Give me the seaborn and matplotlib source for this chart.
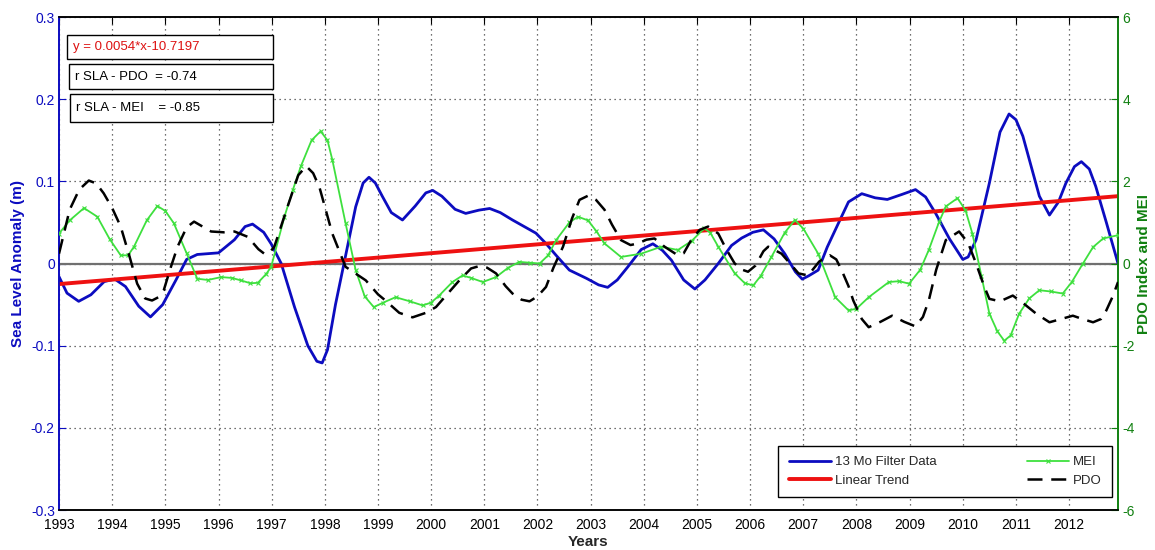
import matplotlib
matplotlib.use("Agg")
import matplotlib.pyplot as plt
import seaborn as sns
import pandas as pd

# ---- data ----
sla_years = [1993.0, 1993.15, 1993.37, 1993.6, 1993.85, 1994.05, 1994.25, 1994.5, 1994.72, 1994.95,
             1995.2, 1995.4, 1995.6, 1996.0, 1996.3, 1996.5, 1996.64, 1996.85, 1996.99, 1997.18,
             1997.43, 1997.68, 1997.85, 1997.95, 1998.05, 1998.2, 1998.36, 1998.58, 1998.72, 1998.83,
             1998.95, 1999.08, 1999.25, 1999.46, 1999.7, 1999.9, 2000.03, 2000.2, 2000.45, 2000.65,
             2000.9, 2001.1, 2001.3, 2001.53, 2001.75, 2001.97, 2002.15, 2002.35, 2002.6, 2002.92,
             2003.15, 2003.32, 2003.5, 2003.7, 2003.95, 2004.17, 2004.35, 2004.52, 2004.75, 2004.96,
             2005.15, 2005.4, 2005.65, 2005.84, 2006.05, 2006.25, 2006.45, 2006.65, 2006.85, 2006.98,
             2007.1, 2007.28, 2007.45, 2007.66, 2007.85, 2008.1, 2008.35, 2008.58, 2008.85, 2009.11,
             2009.3, 2009.49, 2009.75, 2010.0, 2010.1, 2010.25, 2010.5, 2010.7, 2010.87, 2011.0,
             2011.13, 2011.3, 2011.44, 2011.63, 2011.8, 2011.94, 2012.1, 2012.23, 2012.38, 2012.5,
             2012.7, 2012.92]
sla_values = [-0.016, -0.036, -0.046, -0.038, -0.022, -0.019, -0.028, -0.052, -0.065, -0.050,
              -0.020, 0.005, 0.011, 0.013, 0.029, 0.045, 0.048, 0.038, 0.024, 0.0,
              -0.053, -0.100, -0.119, -0.121, -0.105, -0.050, 0.0, 0.069, 0.098, 0.105,
              0.098, 0.082, 0.062, 0.053, 0.070, 0.086, 0.089, 0.082, 0.066, 0.061,
              0.065, 0.067, 0.062, 0.053, 0.045, 0.037, 0.025, 0.010, -0.008, -0.018,
              -0.026, -0.029, -0.020, -0.004, 0.017, 0.024, 0.016, 0.004, -0.020, -0.031,
              -0.020, 0.0, 0.022, 0.031, 0.038, 0.041, 0.030, 0.012, -0.010, -0.019,
              -0.015, -0.008, 0.020, 0.049, 0.075, 0.085, 0.080, 0.078, 0.084, 0.090,
              0.081, 0.061, 0.030, 0.005, 0.008, 0.029, 0.098, 0.160, 0.182, 0.175,
              0.155, 0.115, 0.082, 0.059, 0.075, 0.098, 0.118, 0.124, 0.115, 0.094,
              0.050, 0.0]

mei_years = [1993.0, 1993.2, 1993.47, 1993.72, 1993.95, 1994.16, 1994.3, 1994.41, 1994.65, 1994.85,
             1995.0, 1995.16, 1995.4, 1995.6, 1995.8, 1996.05, 1996.25, 1996.42, 1996.6, 1996.74,
             1996.9, 1996.99, 1997.24, 1997.4, 1997.55, 1997.75, 1997.92, 1998.05, 1998.14, 1998.39,
             1998.58, 1998.75, 1998.92, 1999.1, 1999.33, 1999.6, 1999.84, 2000.0, 2000.15, 2000.4,
             2000.59, 2000.75, 2000.97, 2001.22, 2001.45, 2001.66, 2001.85, 2002.04, 2002.2, 2002.35,
             2002.6, 2002.76, 2002.95, 2003.1, 2003.26, 2003.57, 2003.95, 2004.33, 2004.64, 2004.9,
             2005.14, 2005.25, 2005.4, 2005.71, 2005.9, 2006.06, 2006.2, 2006.4, 2006.65, 2006.84,
             2007.0, 2007.28, 2007.6, 2007.85, 2008.0, 2008.23, 2008.61, 2008.8, 2008.99, 2009.2,
             2009.36, 2009.55, 2009.68, 2009.9, 2010.05, 2010.18, 2010.35, 2010.5, 2010.65, 2010.78,
             2010.9, 2011.06, 2011.25, 2011.44, 2011.65, 2011.88, 2012.05, 2012.26, 2012.45, 2012.64,
             2012.92]
mei_values = [0.73, 1.05, 1.35, 1.14, 0.6, 0.2, 0.2, 0.41, 1.05, 1.40,
              1.28, 0.98, 0.25, -0.37, -0.40, -0.33, -0.35, -0.41, -0.48, -0.47,
              -0.25, -0.08, 1.14, 1.8, 2.37, 3.0, 3.22, 3.0, 2.53, 0.98,
              -0.16, -0.8, -1.06, -0.95, -0.82, -0.92, -1.02, -0.95, -0.78, -0.45,
              -0.29, -0.35, -0.45, -0.33, -0.10, 0.04, 0.02, 0.0, 0.2, 0.57,
              1.0, 1.14, 1.05, 0.8, 0.49, 0.16, 0.24, 0.41, 0.33, 0.55,
              0.86, 0.75, 0.41, -0.24, -0.48, -0.53, -0.3, 0.16, 0.75, 1.06,
              0.85, 0.24, -0.82, -1.14, -1.1, -0.82, -0.45, -0.43, -0.49, -0.15,
              0.33, 1.0, 1.39, 1.59, 1.3, 0.73, -0.3, -1.22, -1.65, -1.88,
              -1.75, -1.22, -0.85, -0.65, -0.68, -0.73, -0.45, 0.0, 0.4, 0.61,
              0.69]

pdo_years = [1993.0, 1993.2, 1993.38, 1993.56, 1993.7, 1993.84, 1994.0, 1994.16, 1994.32, 1994.47,
             1994.62, 1994.75, 1994.87, 1994.97, 1995.1, 1995.23, 1995.4, 1995.54, 1995.7, 1995.86,
             1996.1, 1996.3, 1996.55, 1996.75, 1996.86, 1996.95, 1997.05, 1997.3, 1997.5, 1997.65,
             1997.78, 1997.9, 1998.14, 1998.39, 1998.77, 1999.0, 1999.14, 1999.4, 1999.65, 1999.9,
             2000.09, 2000.3, 2000.53, 2000.75, 2000.91, 2001.05, 2001.22, 2001.4, 2001.53, 2001.7,
             2001.85, 2002.0, 2002.16, 2002.3, 2002.48, 2002.65, 2002.79, 2002.95, 2003.1, 2003.26,
             2003.4, 2003.57, 2003.75, 2003.89, 2004.05, 2004.2, 2004.39, 2004.64, 2004.75, 2004.89,
             2005.05, 2005.21, 2005.4, 2005.55, 2005.71, 2005.85, 2005.96, 2006.1, 2006.25, 2006.34,
             2006.59, 2006.75, 2006.91, 2007.09, 2007.3, 2007.5, 2007.62, 2007.72, 2007.85, 2007.94,
             2008.1, 2008.23, 2008.45, 2008.67, 2008.9, 2009.11, 2009.25, 2009.36, 2009.5, 2009.68,
             2009.93, 2010.1, 2010.25, 2010.4, 2010.5, 2010.7, 2010.94, 2011.15, 2011.38, 2011.63,
             2011.85, 2012.07, 2012.25, 2012.45, 2012.6, 2012.7, 2012.82, 2012.92]
pdo_values = [0.24, 1.31, 1.8, 2.02, 1.95, 1.71, 1.35, 0.9, 0.2, -0.49,
              -0.85, -0.9, -0.82, -0.65, -0.1, 0.41, 0.88, 1.02, 0.9, 0.78,
              0.76, 0.78, 0.65, 0.35, 0.24, 0.25, 0.41, 1.39, 2.15, 2.37,
              2.2, 1.85, 0.73, -0.08, -0.41, -0.75, -0.9, -1.2, -1.31, -1.2,
              -1.06, -0.75, -0.41, -0.12, -0.06, -0.1, -0.24, -0.55, -0.73, -0.88,
              -0.92, -0.8, -0.57, -0.1, 0.41, 1.1, 1.55, 1.65, 1.55, 1.31,
              0.95, 0.57, 0.45, 0.49, 0.58, 0.61, 0.41, 0.2, 0.25, 0.57,
              0.82, 0.9, 0.73, 0.35, 0.0, -0.15, -0.2, -0.05, 0.3, 0.41,
              0.24, 0.0, -0.24, -0.29, 0.05, 0.2, 0.1, -0.16, -0.55, -0.9,
              -1.35, -1.55, -1.42, -1.27, -1.42, -1.53, -1.3, -0.9, -0.15, 0.57,
              0.78, 0.5, 0.0, -0.55, -0.86, -0.92, -0.78, -0.98, -1.22, -1.43,
              -1.35, -1.27, -1.35, -1.43, -1.35, -1.14, -0.8, -0.45]

trend_years = [1993.0, 2012.92]
trend_values = [-0.025, 0.082]

year_ticks = list(range(1993, 2013))
left_ticks = [-0.3, -0.2, -0.1, 0, 0.1, 0.2, 0.3]
right_ticks = [-6, -4, -2, 0, 2, 4, 6]

text_lines = ["y = 0.0054*x-10.7197", "r SLA - PDO  = -0.74", "r SLA - MEI    = -0.85"]

# ---- plotting ----
sns.set_style("white")
plt.rcParams['font.family'] = ['Liberation Sans', 'DejaVu Sans']

BLUE = "#0c0cc0"
GREEN = "#3ee03e"
DKGREEN = "#108010"

fig = plt.figure(figsize=(11.55, 5.5), dpi=100)
ax = fig.add_axes([0.0511, 0.0727, 0.9169, 0.8963])
ax2 = ax.twinx()

df_sla = pd.DataFrame({"year": sla_years, "v": sla_values})
df_tr = pd.DataFrame({"year": trend_years, "v": trend_values})
df_mei = pd.DataFrame({"year": mei_years, "v": mei_values})
df_pdo = pd.DataFrame({"year": pdo_years, "v": pdo_values})

ax.axhline(0, color="#707070", lw=1.6, zorder=1)
sns.lineplot(data=df_sla, x="year", y="v", ax=ax, color=BLUE, lw=2.0, sort=False,
             label="13 Mo Filter Data", legend=False, zorder=4)
sns.lineplot(data=df_tr, x="year", y="v", ax=ax, color="#ee1111", lw=2.8, sort=False,
             label="Linear Trend", legend=False, zorder=5)
sns.lineplot(data=df_mei, x="year", y="v", ax=ax2, color=GREEN, lw=1.3, marker="x",
             markersize=3.5, markeredgewidth=0.8, markeredgecolor=GREEN, sort=False,
             label="MEI", legend=False, zorder=3)
sns.lineplot(data=df_pdo, x="year", y="v", ax=ax2, color="black", lw=1.8, sort=False,
             label="PDO", legend=False, zorder=3)
ax2.lines[-1].set_dashes([6, 3.5])

ax.set_xlim(1993, 2012.92)
ax.set_ylim(-0.3, 0.3)
ax2.set_ylim(-6, 6)
ax.set_xticks(year_ticks)
ax.set_xticklabels([str(y) for y in year_ticks], fontsize=10)
ax.set_yticks(left_ticks)
ax.set_yticklabels(["-0.3", "-0.2", "-0.1", "0", "0.1", "0.2", "0.3"], fontsize=10, color=BLUE)
ax2.set_yticks(right_ticks)
ax2.set_yticklabels([str(t) for t in right_ticks], fontsize=10, color=DKGREEN)

ax.grid(True, linestyle=(0, (1, 3)), color="#404040", lw=0.9)
ax.tick_params(axis="x", direction="in", length=5, top=True, pad=6, colors="black")
ax.tick_params(axis="y", direction="in", length=5, colors=BLUE, pad=3)
ax2.tick_params(axis="y", direction="in", length=5, colors=DKGREEN, pad=3)
for lab in ax.get_xticklabels():
    lab.set_color("black")

for a in (ax, ax2):
    for s in a.spines.values():
        s.set_linewidth(1.2)
        s.set_visible(True)
ax2.spines["left"].set_color(BLUE)
ax2.spines["right"].set_color(DKGREEN)
ax2.spines["top"].set_color("black")
ax2.spines["bottom"].set_color("black")
ax.spines["left"].set_color(BLUE)
ax.spines["right"].set_color(DKGREEN)

ax.set_xlabel("Years", fontsize=11, fontweight="bold", labelpad=2)
ax.set_ylabel("Sea Level Anomaly (m)", fontsize=11, fontweight="bold", color=BLUE, labelpad=4)
ax2.set_ylabel("PDO Index and MEI", fontsize=11, fontweight="bold", color=DKGREEN, labelpad=2)

# annotation boxes
box_specs = [(67, 35, 206, 24, "#dd1111"), (69, 64, 204, 25, "black"), (70, 94, 203, 28, "black")]
for (x0, y0, w, h, col), txt in zip(box_specs, text_lines):
    fx, fy = x0 / 1155, 1 - (y0 + h) / 550
    rect = plt.Rectangle((fx, fy), w / 1155, h / 550, transform=fig.transFigure,
                         fill=True, facecolor="white", edgecolor="black", lw=1.0, zorder=10)
    fig.add_artist(rect)
    fig.text(fx + 6 / 1155, fy + h / 2 / 550, txt, fontsize=9.5, color=col,
             va="center", ha="left", zorder=11)

handles = ax.get_lines()[1:3] + ax2.get_lines()[0:2]
labels = ["13 Mo Filter Data", "Linear Trend", "MEI", "PDO"]
leg = ax2.legend(handles, labels, loc="lower right", ncol=2, fontsize=9.5, frameon=True,
                 fancybox=False, edgecolor="black", framealpha=1, borderpad=0.8,
                 handlelength=3.2, handletextpad=0.3, columnspacing=6.8, labelspacing=0.45,
                 borderaxespad=0, bbox_to_anchor=(0.9943, 0.026))
leg.get_frame().set_linewidth(1.0)

fig.savefig("out.png", dpi=100)
